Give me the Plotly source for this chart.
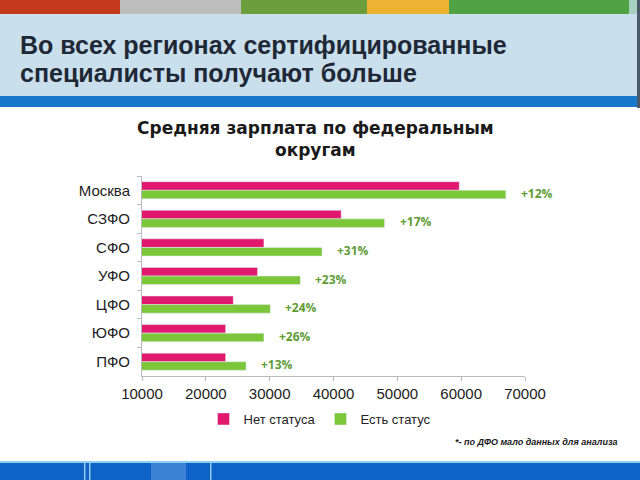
import plotly.graph_objects as go

regions = ["Москва", "СЗФО", "СФО", "УФО", "ЦФО", "ЮФО", "ПФО"]
no_status = [59700, 41200, 29100, 28100, 24300, 23100, 23100]
with_status = [67000, 48000, 38200, 34800, 30100, 29100, 26300]
growth = ["+12%", "+17%", "+31%", "+23%", "+24%", "+26%", "+13%"]
x_ticks = [10000, 20000, 30000, 40000, 50000, 60000, 70000]

W, H = 640, 480
L, R, T, B = 142, 115, 176, 104
PW, PH = W - L - R, H - T - B


def px(x):
    return (x - L) / PW


def py(y):
    return (H - B - y) / PH


fig = go.Figure()
fig.add_trace(go.Bar(y=regions, x=no_status, orientation="h", name="Нет статуса",
                     marker=dict(color="#E0186E")))
fig.add_trace(go.Bar(y=regions, x=with_status, orientation="h", name="Есть статус",
                     marker=dict(color="#7CC63A")))


def rect(x0, x1, y0, y1, c):
    return dict(type="rect", xref="paper", yref="paper", x0=px(x0), x1=px(x1),
                y0=py(y1), y1=py(y0), fillcolor=c, line=dict(width=0), layer="below")


shapes = []
strip = [(0, 120, "#C53A1E"), (120, 241, "#BDBDBD"), (241, 367, "#6C9E3E"),
         (367, 449, "#EDB232"), (449, 629, "#4FA343"), (629, 640, "#A8D0C0")]
for x0, x1, c in strip:
    shapes.append(rect(x0, x1, 0, 14, c))
shapes.append(rect(0, 637, 14, 96, "#CADFEC"))
shapes.append(rect(637, 640, 0, 108, "#4A5A6A"))
shapes.append(rect(0, 637, 96, 107, "#1A78CC"))
shapes.append(rect(0, 640, 462, 480, "#0E62C8"))
shapes.append(rect(151, 186, 463, 480, "#3B82D4"))
shapes.append(rect(0, 640, 461, 463, "#8FD0F0"))
for xv in (84, 89, 210):
    shapes.append(rect(xv, xv + 1.5, 463, 480, "#8FC8F0"))

annotations = []
annotations.append(dict(xref="paper", yref="paper", x=px(18), y=py(44.5), xanchor="left", yanchor="middle",
                        text="<b>Во всех регионах сертифицированные</b>", showarrow=False,
                        font=dict(family="Liberation Sans, Arial", size=25, color="#1E2836")))
annotations.append(dict(xref="paper", yref="paper", x=px(18), y=py(73), xanchor="left", yanchor="middle",
                        text="<b>специалисты получают больше</b>", showarrow=False,
                        font=dict(family="Liberation Sans, Arial", size=25, color="#1E2836")))
annotations.append(dict(xref="paper", yref="paper", x=px(315), y=py(139), xanchor="center", yanchor="middle",
                        text="<b>Средняя зарплата по федеральным<br>округам</b>", showarrow=False,
                        font=dict(family="DejaVu Sans", size=17, color="#1A1A1A")))
annotations.append(dict(xref="paper", yref="paper", x=px(620), y=py(442), xanchor="right", yanchor="middle",
                        text="<b><i>*- по ДФО мало данных для анализа</i></b>", showarrow=False,
                        font=dict(family="Liberation Sans, Arial", size=9, color="#1A1A1A")))
for r, v, g in zip(regions, with_status, growth):
    annotations.append(dict(x=v, y=r, xref="x", yref="y", text="<b>" + g + "</b>", showarrow=False,
                            xanchor="left", yanchor="middle", xshift=13, yshift=-3,
                            font=dict(family="Open Sans, Liberation Sans", size=12, color="#609C36")))

fig.update_layout(
    width=W, height=H,
    margin=dict(l=L, r=R, t=T, b=B, pad=0),
    paper_bgcolor="white", plot_bgcolor="white",
    barmode="group", bargap=0.4, bargroupgap=0,
    showlegend=True,
    legend=dict(orientation="h", x=px(320), y=py(419), xanchor="center", yanchor="middle",
                font=dict(family="Liberation Sans, Arial", size=13, color="#222"),
                itemwidth=30, traceorder="normal"),
    shapes=shapes, annotations=annotations,
    font=dict(family="Liberation Sans, Arial"),
)
fig.update_xaxes(range=[10000, 70000], tickvals=x_ticks, ticktext=[str(t) for t in x_ticks],
                 showgrid=False, zeroline=False, showline=True, linecolor="#BBBBBB",
                 ticks="outside", ticklen=4, tickcolor="#BBBBBB",
                 tickfont=dict(size=15, color="#222"))
fig.update_yaxes(autorange="reversed", showgrid=False, showline=True, linecolor="#BBBBBB",
                 ticks="outside", tickson="boundaries", ticklen=4, tickcolor="#BBBBBB",
                 ticklabelstandoff=8,
                 tickfont=dict(size=15, color="#222"))

fig.write_html("out.html", config={"displayModeBar": False},
               post_script="document.body.style.margin='0';")
